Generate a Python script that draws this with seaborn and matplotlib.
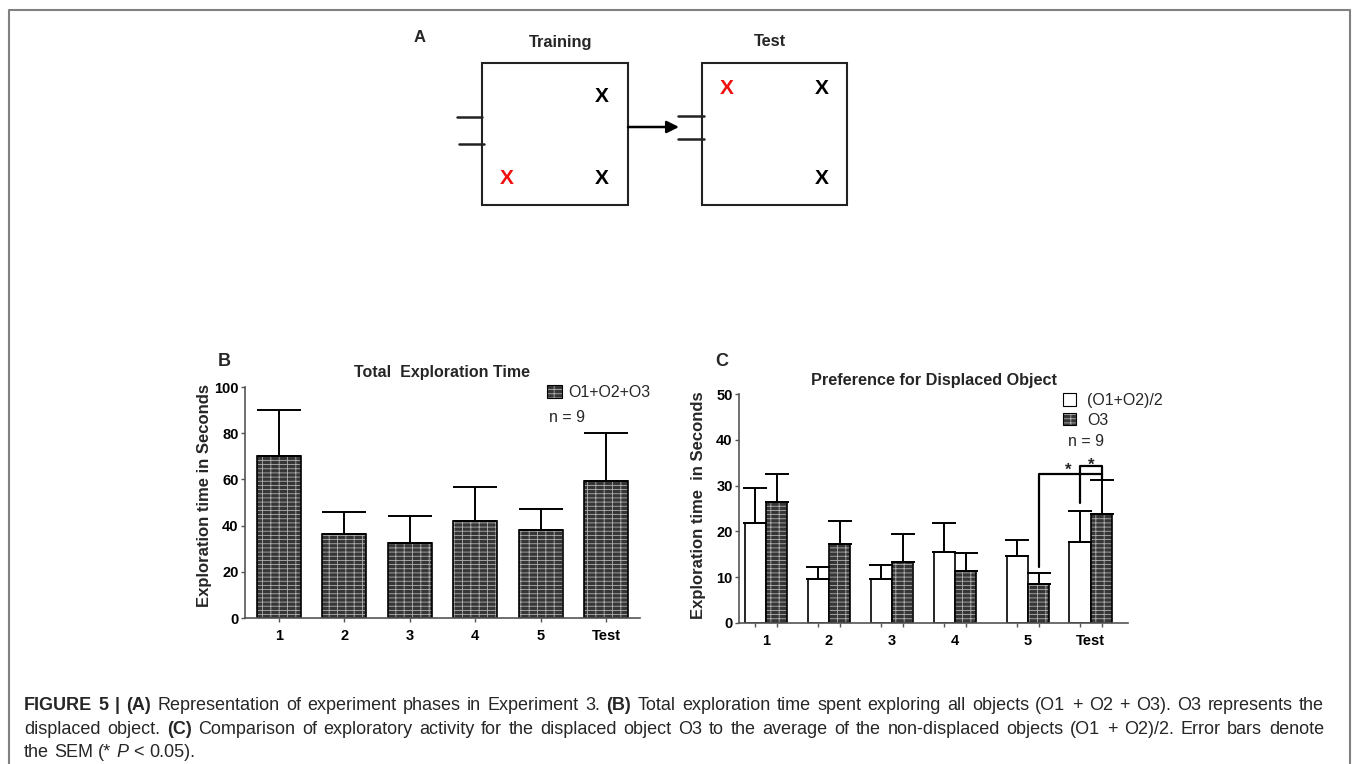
import numpy as np
import pandas as pd
import seaborn as sns
import matplotlib.pyplot as plt
from matplotlib.patches import Patch, Rectangle
from matplotlib.colors import to_rgba

# Panel B: total exploration time O1+O2+O3 (mean, SEM), n = 9
b_sessions = ['1', '2', '3', '4', '5', 'Test']
b_mean = [70.0, 36.5, 32.5, 42.0, 38.0, 59.5]
b_sem = [20.0, 9.5, 11.5, 14.5, 9.0, 20.5]

# Panel C: non-displaced average vs displaced object O3 (mean, SEM)
c_sessions = ['1', '2', '3', '4', '5', 'Test']
c_groups = ['(O1+O2)/2', 'O3']
c_avg_mean = [21.8, 9.6, 9.6, 15.4, 14.7, 17.7]
c_avg_sem = [7.6, 2.6, 3.0, 6.5, 3.5, 6.7]
c_o3_mean = [26.4, 17.2, 13.3, 11.3, 8.5, 23.9]
c_o3_sem = [6.2, 5.0, 6.2, 4.0, 2.4, 7.4]

DARK = '#363636'
HATCH_COL = '#b0b0b0'
HATCH = '----||'
RED = '#f01010'
W, H = 1352, 764

sns.set_style('ticks')
plt.rcParams['font.family'] = ['Liberation Sans', 'DejaVu Sans']
plt.rcParams['hatch.linewidth'] = 0.6

fig = plt.figure(figsize=(W / 100, H / 100), dpi=100)

# overlay in pixel units for the diagram, frame and caption
ov = fig.add_axes([0, 0, 1, 1])
ov.set_xlim(0, W)
ov.set_ylim(H, 0)
ov.axis('off')


def px_axes(left, top, right, bottom):
    return fig.add_axes([left / W, 1 - bottom / H, (right - left) / W, (bottom - top) / H])


def brick(patches):
    for p in patches:
        p.set_hatch(HATCH)
        if hasattr(p, 'set_hatchcolor'):
            p.set_hatchcolor(HATCH_COL)
        else:
            p._hatch_color = to_rgba(HATCH_COL)


def style_axes(ax):
    sns.despine(ax=ax)
    for s in ('left', 'bottom'):
        ax.spines[s].set_color('#555555')
        ax.spines[s].set_linewidth(1.2)
    ax.set_facecolor('none')
    ax.set_xlabel('')
    ax.tick_params(axis='both', which='both', colors='#555555', width=1.0,
                   labelsize=10.5, labelcolor='black')
    ax.tick_params(axis='y', length=3, pad=1.5)
    for lab in ax.get_xticklabels() + ax.get_yticklabels():
        lab.set_fontweight('bold')


# frame
ov.plot([9, 9, 1350, 1350], [H, 10, 10, H], color='#808080', lw=1.5)

# ---------------- panel A ----------------
ov.text(420, 38, 'A', fontsize=12, fontweight='bold', ha='center', va='center')
ov.text(561, 43, 'Training', fontsize=11.8, fontweight='bold', ha='center', va='center')
ov.text(770, 42, 'Test', fontsize=11.8, fontweight='bold', ha='center', va='center')
for x0, x1 in ((482, 628), (702, 847)):
    ov.add_patch(Rectangle((x0, 63), x1 - x0, 142, fill=False, lw=1.5, ec='#222222'))
ov.plot([457, 482], [117, 117], color='#222222', lw=1.8)
ov.plot([459, 484], [144, 144], color='#222222', lw=1.8)
ov.plot([678, 704], [116, 116], color='#222222', lw=1.8)
ov.plot([678, 704], [139, 139], color='#222222', lw=1.8)
ov.annotate('', xy=(679, 127), xytext=(628, 127),
            arrowprops=dict(arrowstyle='-|>', lw=1.8, color='black', mutation_scale=18,
                            shrinkA=0, shrinkB=0))
for x, y, c in ((602, 96, 'black'), (602, 179, 'black'), (507, 179, RED),
                (727, 88, RED), (822, 88, 'black'), (822, 179, 'black')):
    ov.text(x, y, 'X', fontsize=15, fontweight='bold', color=c, ha='center', va='center')

# ---------------- panel B ----------------
ax_b = px_axes(245, 387, 640, 618)
df_b = pd.DataFrame({'session': b_sessions, 'time': b_mean})
sns.barplot(data=df_b, x='session', y='time', color=DARK, saturation=1, width=0.67,
            errorbar=None, edgecolor='black', linewidth=1.2, ax=ax_b)
brick(ax_b.patches)
xb = [p.get_x() + p.get_width() / 2 for p in ax_b.patches]
ax_b.errorbar(xb, b_mean, yerr=[np.zeros(len(b_sem)), b_sem], fmt='none', ecolor='black',
              elinewidth=1.4, capsize=16, capthick=1.4)
ax_b.set_xlim(-0.52, 5.52)
ax_b.set_ylim(0, 100)
ax_b.set_yticks(range(0, 101, 20))
style_axes(ax_b)
ax_b.tick_params(axis='x', length=3, pad=5)
ax_b.set_ylabel('Exploration time in Seconds', fontsize=12, fontweight='bold')
ax_b.yaxis.set_label_coords(-0.084, 0.53)
leg_b = ax_b.legend([Patch(facecolor=DARK, edgecolor='black', lw=0.8)], ['O1+O2+O3'],
                    loc='upper left', bbox_to_anchor=(547 / W, 1 - 385 / H),
                    bbox_transform=fig.transFigure, frameon=False, fontsize=11.5,
                    handlelength=0.95, handleheight=0.85, handletextpad=0.35,
                    borderpad=0, borderaxespad=0)
brick(leg_b.legend_handles)
ov.text(549, 417, 'n = 9', fontsize=11.5, va='center')
ov.text(224, 362, 'B', fontsize=13, fontweight='bold', ha='center', va='center')
ov.text(442, 373, 'Total  Exploration Time', fontsize=11.5, fontweight='bold', ha='center', va='center')

# ---------------- panel C ----------------
ax_c = px_axes(739, 394, 1128, 623)
gap = 0.16
c_pos = [i + (gap if i >= 4 else 0) for i in range(len(c_sessions))]
df_c = pd.DataFrame({
    'pos': c_pos * 2,
    'object': [c_groups[0]] * len(c_pos) + [c_groups[1]] * len(c_pos),
    'time': c_avg_mean + c_o3_mean,
})
sns.barplot(data=df_c, x='pos', y='time', hue='object', hue_order=c_groups, native_scale=True,
            palette={c_groups[0]: 'white', c_groups[1]: DARK}, saturation=1, width=0.68,
            errorbar=None, edgecolor='black', linewidth=1.2, legend=False, ax=ax_c)
brick(ax_c.containers[1])
centers = []
for cont, mean, sem in zip(ax_c.containers, (c_avg_mean, c_o3_mean), (c_avg_sem, c_o3_sem)):
    xs = [p.get_x() + p.get_width() / 2 for p in cont]
    centers.append(xs)
    ax_c.errorbar(xs, mean, yerr=[np.zeros(len(sem)), sem], fmt='none', ecolor='black',
                  elinewidth=1.4, capsize=8.5, capthick=1.4)
avg_x, o3_x = centers
ax_c.set_xlim(-0.43, 5.75)
ax_c.set_ylim(0, 50)
ax_c.set_yticks(range(0, 51, 10))
ax_c.set_xticks(c_pos, c_sessions)
ax_c.set_xticks(avg_x + o3_x, minor=True)
style_axes(ax_c)
ax_c.tick_params(axis='x', which='major', length=0, pad=8)
ax_c.tick_params(axis='x', which='minor', length=3)
ax_c.set_ylabel('Exploration time  in Seconds', fontsize=12, fontweight='bold')
ax_c.yaxis.set_label_coords(-0.085, 0.515)

# significance brackets
top5 = c_o3_mean[4] + c_o3_sem[4]
topT_avg = c_avg_mean[5] + c_avg_sem[5]
topT_o3 = c_o3_mean[5] + c_o3_sem[5]
ax_c.plot([o3_x[4], o3_x[4], o3_x[5], o3_x[5]], [top5 + 1.4, 32.5, 32.5, topT_o3],
          color='black', lw=1.6, clip_on=False)
ax_c.plot([avg_x[5], avg_x[5], o3_x[5], o3_x[5]], [topT_avg + 1.8, 34.3, 34.3, 32.5],
          color='black', lw=1.6, clip_on=False)
ax_c.text((o3_x[4] + o3_x[5]) / 2 - 0.03, 32.4, '*', fontsize=12, fontweight='bold', ha='center', va='baseline')
ax_c.text((avg_x[5] + o3_x[5]) / 2, 33.5, '*', fontsize=12, fontweight='bold', ha='center', va='baseline')

leg_c = ax_c.legend([Patch(facecolor='white', edgecolor='black', lw=0.8),
                     Patch(facecolor=DARK, edgecolor='black', lw=0.8)], c_groups,
                    loc='upper left', bbox_to_anchor=(1063 / W, 1 - 393 / H),
                    bbox_transform=fig.transFigure, frameon=False, fontsize=11.5,
                    handlelength=0.8, handleheight=0.8, handletextpad=0.7,
                    labelspacing=0.3, borderpad=0, borderaxespad=0)
brick(leg_c.legend_handles[1:])
ov.text(1068, 441, 'n = 9', fontsize=11.5, va='center')
ov.text(722, 362, 'C', fontsize=13, fontweight='bold', ha='center', va='center')
ov.text(934, 380, 'Preference for Displaced Object', fontsize=11.7, fontweight='bold',
        ha='center', va='center')

# ---------------- caption ----------------
cap_lines = [
    [('FIGURE 5 | (A)', 'bold'), ('Representation of experiment phases in Experiment 3.', 'normal'),
     ('(B)', 'bold'), ('Total exploration time spent exploring all objects (O1 + O2 + O3). O3 represents the', 'normal')],
    [('displaced object.', 'normal'), ('(C)', 'bold'),
     ('Comparison of exploratory activity for the displaced object O3 to the average of the '
      'non-displaced objects (O1 + O2)/2. Error bars denote', 'normal')],
    [('the SEM (*', 'normal'), ('P', 'italic'), ('< 0.05).', 'normal')],
]
cap_base = [710, 733.5, 757]
cap_left, cap_right = 24, 1324
cap_size = 13
renderer = fig.canvas.get_renderer()
space_w = None
for li, (runs, yb) in enumerate(zip(cap_lines, cap_base)):
    words = []
    for text, sty in runs:
        for w in text.split(' '):
            t = ov.text(0, yb, w, fontsize=cap_size, va='baseline',
                        fontweight='bold' if sty == 'bold' else 'normal',
                        fontstyle='italic' if sty == 'italic' else 'normal')
            words.append(t)
    widths = [t.get_window_extent(renderer).width for t in words]
    if space_w is None:
        a = ov.text(0, 0, 'a a', fontsize=cap_size)
        b = ov.text(0, 0, 'aa', fontsize=cap_size)
        space_w = a.get_window_extent(renderer).width - b.get_window_extent(renderer).width
        a.remove()
        b.remove()
    if li < 2:
        g = max((cap_right - cap_left - sum(widths)) / (len(words) - 1), space_w * 0.8)
    else:
        g = space_w
    x = cap_left
    for t, wd in zip(words, widths):
        t.set_x(x)
        x += wd + g

fig.savefig('out.png', dpi=100)
